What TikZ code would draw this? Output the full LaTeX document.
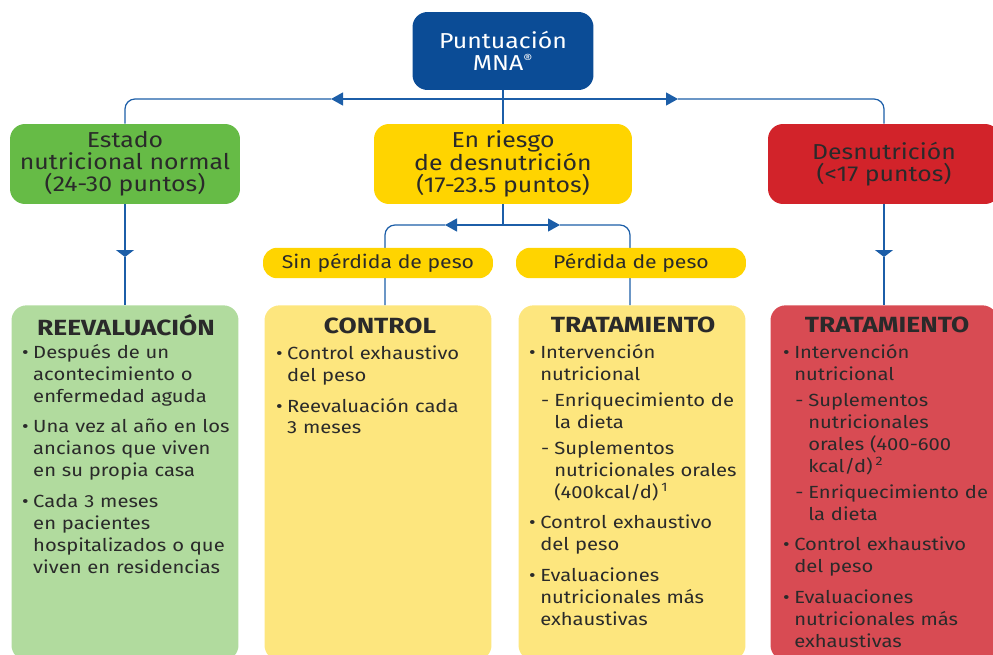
\documentclass[tikz,border=0pt]{standalone}
\usepackage{fontspec}
\setmainfont{Fira Sans}[FakeStretch=1.15]
\newfontfamily\headfont{Fira Sans}[FakeStretch=1.2]
\usepackage{enumitem}
\usetikzlibrary{positioning}
\usetikzlibrary{arrows.meta}
\definecolor{mnablue}{HTML}{0B4C96}
\definecolor{linkblue}{HTML}{1C5EA8}
\definecolor{okgreen}{HTML}{66BB46}
\definecolor{riskyellow}{HTML}{FFD400}
\definecolor{badred}{HTML}{D2232A}
\definecolor{okgreenlight}{HTML}{B1DB9E}
\definecolor{riskyellowlight}{HTML}{FDE67E}
\definecolor{badredlight}{HTML}{D84B53}
\definecolor{ink}{HTML}{2A2A2A}
\setlist{nosep}
\setlist[itemize,1]{label=\textbullet, leftmargin=6.2pt, labelsep=2.6pt, itemsep=5pt}
\setlist[itemize,2]{label=-, leftmargin=8pt, labelsep=2.8pt, topsep=2.3pt, itemsep=2.3pt}
\tikzset{box/.style = {rounded corners = 0.3cm, minimum height = 1.6cm, align = center, text = ink, font = \fontsize{12.3}{12.6}\selectfont}}
\tikzset{pill/.style = {fill = riskyellow, rounded corners = 0.28cm, minimum width = 4.6cm, minimum height = 0.56cm, text = ink, font = \fontsize{10.5}{12}\selectfont}}
\tikzset{panel/.style = {rounded corners = 0.3cm, minimum width = 4.54cm, minimum height = 7.1cm, anchor = north}}
\tikzset{head/.style = {text = ink, font = \headfont\fontsize{12.5}{13}\selectfont\bfseries}}
\tikzset{items/.style = {anchor = north west, inner sep = 0, text width = 4.6cm, align = left, text = ink, font = \fontsize{10}{12.5}\selectfont}}
\tikzset{link/.style = {draw = linkblue, line width = 0.7pt}}
\tikzset{tiph/.style = {-{Triangle[length = 0.24cm, width = 0.26cm]}}}
\tikzset{tipv/.style = {-{Triangle[length = 0.14cm, width = 0.36cm]}}}

\begin{document}
\begin{tikzpicture}[x = 0.02cm, y = -0.02cm]
  \clip (0, 0) rectangle (993, 655);

  % scores
  \node [box, fill = mnablue, text = white, minimum width = 3.62cm, minimum height = 1.56cm] (mna) at (503, 51) {Puntuación\\MNA\textsuperscript{\scriptsize ®}};
  \node [box, fill = okgreen, minimum width = 4.6cm] (normal) at (125, 164) {Estado\\nutricional normal\\(24-30 puntos)};
  \node [box, fill = riskyellow, minimum width = 5.16cm] (riesgo) at (503, 164) {En riesgo\\de desnutrición\\(17-23.5 puntos)};
  \node [box, fill = badred, minimum width = 4.64cm] (desnut) at (884, 164) {Desnutrición\\(<17 puntos)};

  % panels
  \node [panel, fill = okgreenlight] (reeval) at (125, 305) {};
  \node [panel, fill = riskyellowlight] (control) at (378, 305) {};
  \node [panel, fill = riskyellowlight] (trat) at (632, 305) {};
  \node [panel, fill = badredlight] (tratred) at (884, 305) {};

  \node [head] (reevalhead) at (126, 325) {REEVALUACIÓN};
  \node [head] (controlhead) at (380, 326) {CONTROL};
  \node [head] (trathead) at (633, 325) {TRATAMIENTO};
  \node [head] (tratredhead) at (887, 325) {TRATAMIENTO};

  \node [items] (reevalitems) at (22, 336) {%
    \begin{itemize}
      \item Después de un\newline acontecimiento o\newline enfermedad aguda
      \item Una vez al año en los\newline ancianos que viven\newline en su propia casa
      \item Cada 3 meses\newline en pacientes\newline hospitalizados o que\newline viven en residencias
    \end{itemize}};
  \node [items] (controlitems) at (276, 337) {%
    \begin{itemize}
      \item Control exhaustivo\newline del peso
      \item Reevaluación cada\newline 3 meses
    \end{itemize}};
  \node [items] (tratitems) at (529, 336) {%
    \begin{itemize}
      \item Intervención\newline nutricional
      \begin{itemize}
        \item Enriquecimiento de\newline la dieta
        \item Suplementos\newline nutricionales orales\newline (400kcal/d)\,\textsuperscript{1}
      \end{itemize}
      \item Control exhaustivo\newline del peso
      \item Evaluaciones\newline nutricionales más\newline exhaustivas
    \end{itemize}};
  \node [items] (tratreditems) at (783, 336) {%
    \begin{itemize}
      \item Intervención\newline nutricional
      \begin{itemize}
        \item Suplementos\newline nutricionales\newline orales (400-600\newline kcal/d)\,\textsuperscript{2}
        \item Enriquecimiento de\newline la dieta
      \end{itemize}
      \item Control exhaustivo\newline del peso
      \item Evaluaciones\newline nutricionales más\newline exhaustivas
    \end{itemize}};

  % connectors
  \coordinate (fork) at (503, 99);
  \coordinate (forkl) at (331, 99);
  \coordinate (forkr) at (678, 99);
  \draw [link] (mna.south) -- (riesgo.north);
  \draw [link, tiph] (fork) -- (forkl);
  \draw [link, rounded corners = 0.2cm] (forkl) -| (normal.north);
  \draw [link, tiph] (fork) -- (forkr);
  \draw [link, rounded corners = 0.2cm] (forkr) -| (desnut.north);

  \coordinate (downl) at (125, 257);
  \coordinate (downr) at (884, 257);
  \draw [link, tipv] (normal.south) -- (downl);
  \draw [link] (downl) -- (reeval.north);
  \draw [link, tipv] (desnut.south) -- (downr);
  \draw [link] (downr) -- (tratred.north);

  \coordinate (split) at (503, 225);
  \coordinate (splitl) at (445, 225);
  \coordinate (splitr) at (560, 225);
  \coordinate (controlin) at (385, 305);
  \coordinate (tratin) at (630, 305);
  \draw [link] (riesgo.south) -- (split);
  \draw [link, tiph] (split) -- (splitl);
  \draw [link, rounded corners = 0.2cm] (splitl) -| (controlin);
  \draw [link, tiph] (split) -- (splitr);
  \draw [link, rounded corners = 0.2cm] (splitr) -| (tratin);

  % weight labels
  \node [pill] (sinperdida) at (378, 263) {Sin pérdida de peso};
  \node [pill] (perdida) at (631, 263) {Pérdida de peso};
\end{tikzpicture}
\end{document}
